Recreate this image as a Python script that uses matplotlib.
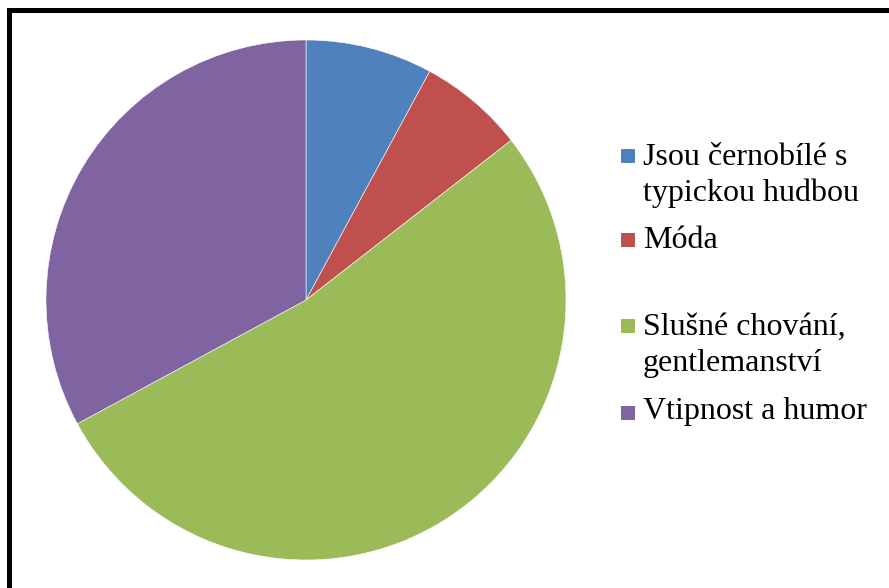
import matplotlib
matplotlib.use("Agg")
import matplotlib.pyplot as plt
from matplotlib.patches import Rectangle

labels = ["Jsou černobílé s\ntypickou hudbou", "Móda", "Slušné chování,\ngentlemanství", "Vtipnost a humor"]
values = [6, 5, 40, 25]
colors = ["#4F81BD", "#C0504D", "#9BBB59", "#8064A2"]

W, H = 889, 588
fig = plt.figure(figsize=(W / 100, H / 100), dpi=100)
fig.patch.set_facecolor("white")

# pie area: center (306, 300), radius 260 px
ax = fig.add_axes([46 / W, 28 / H, 520 / W, 520 / H])
ax.pie(values, colors=colors, startangle=90, counterclock=False,
       wedgeprops={"edgecolor": "white", "linewidth": 0.4})
ax.set_xlim(-1, 1)
ax.set_ylim(-1, 1)
ax.set_aspect("equal")
ax.axis("off")

# legend drawn by hand (uneven Excel spacing)
square_y = [156, 240, 326, 413]
baseline_y = [165, 248, 335, 419]
line_step = 36
sq = 14
for lab, col, y, b in zip(labels, colors, square_y, baseline_y):
    fig.add_artist(Rectangle((621 / W, 1 - (y + sq / 2) / H), sq / W, sq / H,
                             transform=fig.transFigure, facecolor=col, edgecolor="none"))
    for i, line in enumerate(lab.split("\n")):
        fig.text(643 / W, 1 - (b + i * line_step) / H, line, ha="left", va="baseline",
                 fontsize=23, family="Liberation Serif", color="black")

# outer frame
fig.add_artist(Rectangle((8.5 / W, -0.05), 1.1, 1 - 9.5 / H + 0.05,
                         transform=fig.transFigure, fill=False, edgecolor="black",
                         linewidth=3.6, joinstyle="miter"))

fig.savefig("out.png", dpi=100, facecolor="white")
